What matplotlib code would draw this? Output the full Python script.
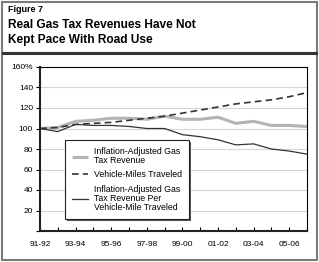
"""
Figure 7: real gas tax revenues vs road use (index, 1991-92 = 100)
"""

import matplotlib
matplotlib.use("Agg")
import matplotlib.pyplot as plt
from matplotlib.patches import Rectangle
from matplotlib.lines import Line2D

plt.rcParams['font.family'] = ['Liberation Sans', 'DejaVu Sans']

# fiscal years 91-92 .. 06-07
years = ['91-92', '92-93', '93-94', '94-95', '95-96', '96-97', '97-98', '98-99',
         '99-00', '00-01', '01-02', '02-03', '03-04', '04-05', '05-06', '06-07']
gas_tax = [100, 101, 107, 108, 110, 110, 109, 112, 109, 109, 111, 105, 107, 103, 103, 102]
vmt = [100, 101, 104, 105, 106, 108, 110, 112, 115, 118, 121, 124, 126, 128, 131, 135]
per_vmt = [100, 97, 104, 103, 103, 102, 100, 100, 94, 92, 89, 84, 85, 80, 78, 75]
ytick_vals = [0, 20, 40, 60, 80, 100, 120, 140, 160]
ytick_labels = ['', '20', '40', '60', '80', '100', '120', '140', '160%']

W, H = 319, 262
fig = plt.figure(figsize=(W / 100, H / 100), dpi=100)

# outer frame and header rule
fig.patches.append(Rectangle((2 / W, 2 / H), 1 - 4 / W, 1 - 4 / H, transform=fig.transFigure,
                             fill=False, edgecolor='#7a7a7a', linewidth=1.5))
fig.add_artist(Line2D([3 / W, 1 - 3 / W], [1 - 53 / H, 1 - 53 / H], transform=fig.transFigure,
                      color='#333333', linewidth=2.2))

fig.text(8 / W, 1 - 9 / H, 'Figure 7', fontsize=6.5, fontweight='bold', va='center', ha='left')
fig.text(8 / W, 1 - 25 / H, 'Real Gas Tax Revenues Have Not', fontsize=8.6, fontweight='bold',
         va='center', ha='left')
fig.text(8 / W, 1 - 40 / H, 'Kept Pace With Road Use', fontsize=8.6, fontweight='bold',
         va='center', ha='left')

ax = fig.add_axes([40 / W, (H - 231) / H, (307 - 40) / W, (231 - 67) / H])
x = list(range(len(years)))

ax.plot(x, gas_tax, color='#b4b4b4', linewidth=2.2, label='Inflation-Adjusted Gas\nTax Revenue',
        solid_capstyle='butt')
ax.plot(x, vmt, color='#333333', linewidth=1.2, dashes=(4, 2.5),
        label='Vehicle-Miles Traveled')
ax.plot(x, per_vmt, color='#333333', linewidth=0.9,
        label='Inflation-Adjusted Gas\nTax Revenue Per\nVehicle-Mile Traveled')

ax.set_xlim(0, 15)
ax.set_ylim(0, 160)
ax.set_xticks(x)
ax.set_xticklabels([y if i % 2 == 0 else '' for i, y in enumerate(years)])
ax.set_yticks(ytick_vals)
ax.set_yticklabels(ytick_labels)
ax.tick_params(axis='x', direction='in', length=3, width=0.8, labelsize=6, pad=7)
ax.tick_params(axis='y', direction='out', length=3, width=0.8, labelsize=6, pad=2)
for v in ytick_vals[1:-1]:
    ax.axhline(v, color='#d6d6d6', linewidth=0.8, zorder=0)

for side in ['top', 'right']:
    ax.spines[side].set_linewidth(0.8)
for side in ['left', 'bottom']:
    ax.spines[side].set_linewidth(1.5)
    ax.spines[side].set_color('#222222')

leg = ax.legend(loc='lower left', bbox_to_anchor=(25 / 267, 12 / 164), fontsize=6.3,
                frameon=True, fancybox=False, framealpha=1, borderaxespad=0,
                handlelength=1.9, labelspacing=0.6, borderpad=0.75, handletextpad=0.7)
frame = leg.get_frame()
frame.set_edgecolor('#222222')
frame.set_linewidth(0.8)
for t in leg.get_texts():
    t.set_linespacing(1.05)
leg.set_zorder(6)

# thin drop shadow behind the legend box
fig.canvas.draw()
bb = leg.get_window_extent().translated(2, -2).transformed(ax.transAxes.inverted())
ax.add_patch(Rectangle((bb.x0, bb.y0), bb.width, bb.height, transform=ax.transAxes,
                       facecolor='#555555', edgecolor='none', zorder=5.5, clip_on=False))

fig.savefig('out.png', dpi=100)
